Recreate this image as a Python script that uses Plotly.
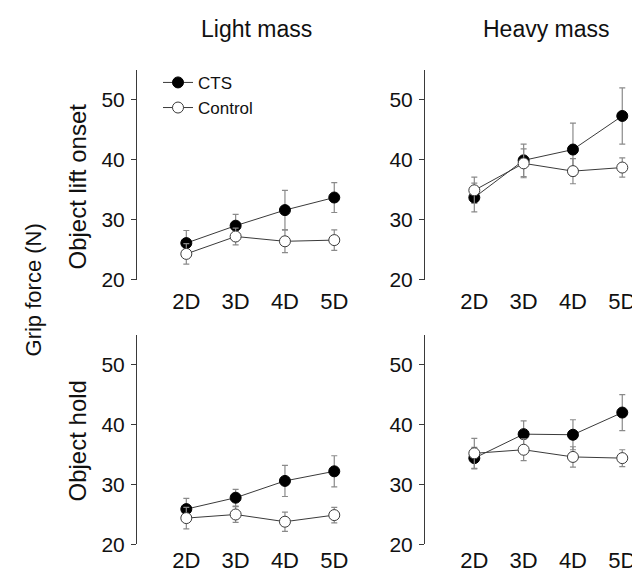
import plotly.graph_objects as go

digits = ["2D", "3D", "4D", "5D"]
y_ticks = [20, 30, 40, 50]

# Light mass, object lift onset
light_lift_cts = [26.1, 29.0, 31.6, 33.7]
light_lift_cts_err = [2.1, 1.9, 3.3, 2.5]
light_lift_ctl = [24.3, 27.2, 26.4, 26.6]
light_lift_ctl_err = [1.7, 1.4, 1.9, 1.7]

# Heavy mass, object lift onset
heavy_lift_cts = [33.7, 39.9, 41.7, 47.3]
heavy_lift_cts_err = [2.4, 2.7, 4.4, 4.7]
heavy_lift_ctl = [34.9, 39.4, 38.1, 38.7]
heavy_lift_ctl_err = [2.2, 2.4, 2.1, 1.6]

# Light mass, object hold
light_hold_cts = [25.9, 27.8, 30.6, 32.2]
light_hold_cts_err = [1.8, 1.4, 2.6, 2.6]
light_hold_ctl = [24.4, 25.0, 23.8, 24.9]
light_hold_ctl_err = [1.8, 1.3, 1.6, 1.3]

# Heavy mass, object hold
heavy_hold_cts = [34.4, 38.4, 38.3, 42.0]
heavy_hold_cts_err = [1.8, 2.2, 2.5, 3.0]
heavy_hold_ctl = [35.2, 35.8, 34.6, 34.4]
heavy_hold_ctl_err = [2.5, 1.8, 1.7, 1.4]

FONT = "Liberation Sans, Arial, sans-serif"
LINE_COL = "#3a3a3a"
ERR_COL = "#8a8a8a"

panels = [
    ("x", "y", light_lift_cts, light_lift_cts_err, light_lift_ctl, light_lift_ctl_err, True),
    ("x2", "y2", heavy_lift_cts, heavy_lift_cts_err, heavy_lift_ctl, heavy_lift_ctl_err, False),
    ("x3", "y3", light_hold_cts, light_hold_cts_err, light_hold_ctl, light_hold_ctl_err, False),
    ("x4", "y4", heavy_hold_cts, heavy_hold_cts_err, heavy_hold_ctl, heavy_hold_ctl_err, False),
]

fig = go.Figure()
for xa, ya, cts, cts_e, ctl, ctl_e, show in panels:
    fig.add_trace(go.Scatter(
        x=digits, y=cts, xaxis=xa, yaxis=ya, name="CTS", showlegend=show,
        mode="lines+markers", cliponaxis=False,
        line=dict(color=LINE_COL, width=1),
        marker=dict(size=11, color="black", line=dict(color="black", width=1)),
        error_y=dict(type="data", array=cts_e, visible=True, color=ERR_COL, thickness=1.2, width=3),
    ))
    fig.add_trace(go.Scatter(
        x=digits, y=ctl, xaxis=xa, yaxis=ya, name="Control", showlegend=show,
        mode="lines+markers", cliponaxis=False,
        line=dict(color=LINE_COL, width=1),
        marker=dict(size=11, color="white", line=dict(color=LINE_COL, width=1)),
        error_y=dict(type="data", array=ctl_e, visible=True, color=ERR_COL, thickness=1.2, width=3),
    ))

W, H = 640, 572
col_dom = [[129 / W, 346 / W], [417 / W, 634 / W]]
row_dom = [[1 - 277 / H, 1 - 63 / H], [1 - 547 / H, 1 - 333 / H]]

def xaxis(dom, standoff):
    return dict(domain=dom, type="category", range=[-1, 3.4], showline=False, showgrid=False,
                zeroline=False, ticks="", tickfont=dict(size=22, family=FONT, color="#111"),
                ticklabelstandoff=standoff, fixedrange=True)

def yaxis(dom, anchor):
    return dict(domain=dom, anchor=anchor, range=[20, 55], tickvals=y_ticks, showline=True,
                linecolor=LINE_COL, linewidth=1, ticks="outside", ticklen=5, tickcolor=LINE_COL,
                showgrid=False, zeroline=False, tickfont=dict(size=21, family=FONT, color="#111"),
                ticklabelstandoff=2)

fig.update_layout(
    width=W, height=H, margin=dict(l=0, r=0, t=0, b=0),
    paper_bgcolor="white", plot_bgcolor="white",
    font=dict(family=FONT, color="#111"),
    xaxis=dict(xaxis(col_dom[0], 6), anchor="y"),
    xaxis2=dict(xaxis(col_dom[1], 6), anchor="y2"),
    xaxis3=dict(xaxis(col_dom[0], 1), anchor="y3"),
    xaxis4=dict(xaxis(col_dom[1], 1), anchor="y4"),
    yaxis=yaxis(row_dom[0], "x"),
    yaxis2=yaxis(row_dom[0], "x2"),
    yaxis3=yaxis(row_dom[1], "x3"),
    yaxis4=yaxis(row_dom[1], "x4"),
    legend=dict(x=150 / W, y=1 - 58 / H, xanchor="left", yanchor="top",
                font=dict(size=17, family=FONT, color="#111"), bgcolor="rgba(0,0,0,0)",
                tracegroupgap=0),
    showlegend=True,
)

annots = [
    dict(text="Light mass", x=248 / W, y=1 - 21 / H, size=23, angle=0),
    dict(text="Heavy mass", x=538 / W, y=1 - 21 / H, size=23, angle=0),
    dict(text="Object lift onset", x=69 / W, y=1 - 182 / H, size=24, angle=-90),
    dict(text="Object hold", x=69 / W, y=1 - 442 / H, size=24, angle=-90),
    dict(text="Grip force (N)", x=25 / W, y=1 - 288 / H, size=22, angle=-90),
]
for a in annots:
    fig.add_annotation(text=a["text"], x=a["x"], y=a["y"], xref="paper", yref="paper",
                       showarrow=False, textangle=a["angle"], xanchor="center", yanchor="middle",
                       font=dict(size=a["size"], family=FONT, color="#111"))

fig.write_html("out.html")
